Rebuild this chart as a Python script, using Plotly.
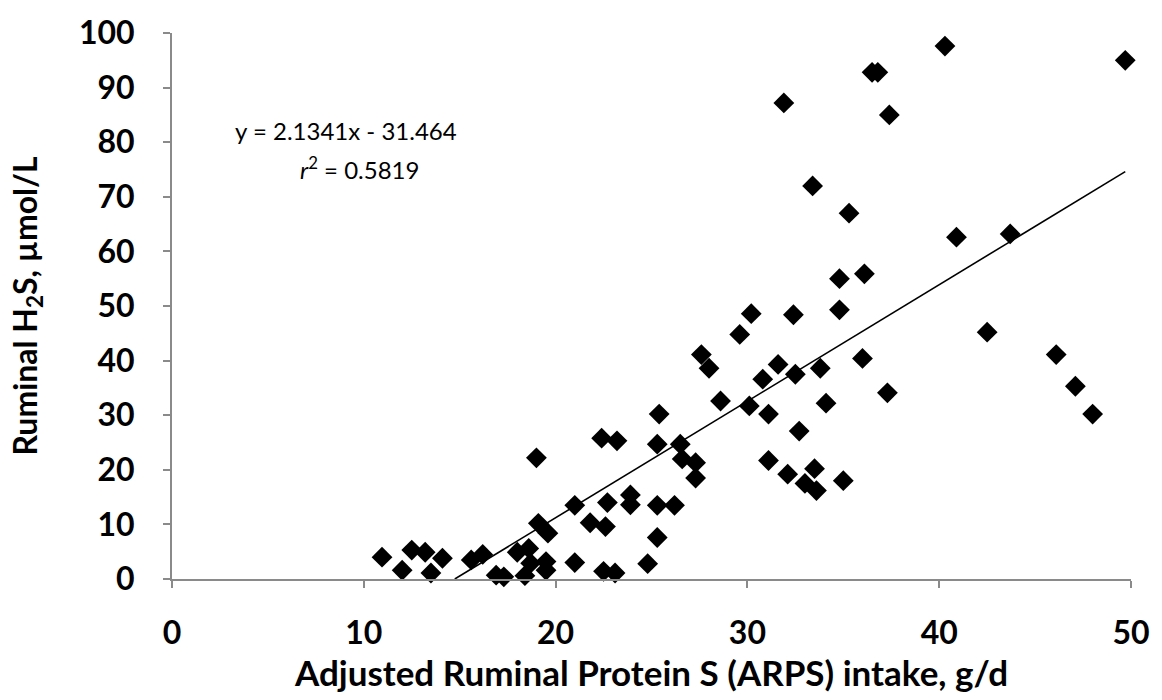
import plotly.graph_objects as go

# ARPS intake (g/d) and ruminal H2S (umol/L)
arps_intake = [
    10.95, 12.0, 12.5, 13.2, 13.5, 14.1, 15.6, 16.2,
    16.9, 17.3, 18.0, 18.6, 18.4, 18.7, 19.1, 19.6, 19.0, 19.5, 19.5,
    21.0, 21.0, 21.8, 22.6, 22.4, 23.2, 22.7, 23.9, 23.9, 22.5, 23.1,
    24.8, 25.3, 25.3, 26.2, 25.4, 25.3, 26.5, 26.6, 27.3, 27.3,
    27.6, 28.0, 28.6, 29.6, 30.1, 30.2, 30.8, 31.1, 31.1, 31.6,
    31.9, 32.1, 32.4, 32.5, 32.7, 33.4, 33.5, 33.0, 33.6, 33.8,
    34.1, 34.8, 34.8, 35.0, 35.3, 36.0, 36.1, 36.5, 36.8, 37.3,
    37.4, 40.3, 40.9, 42.5, 43.7, 46.1, 47.1, 48.0, 49.7,
]
h2s = [
    4.0, 1.6, 5.3, 4.9, 1.1, 3.8, 3.5, 4.5,
    0.7, 0.4, 4.9, 5.6, 0.6, 2.9, 10.2, 8.4, 22.2, 3.2, 1.6,
    3.0, 13.5, 10.3, 9.6, 25.8, 25.3, 14.0, 15.4, 13.6, 1.4, 1.1,
    2.8, 7.6, 13.5, 13.5, 30.2, 24.7, 24.7, 22.0, 21.3, 18.5,
    41.1, 38.6, 32.6, 44.8, 31.7, 48.6, 36.6, 30.2, 21.7, 39.3,
    87.2, 19.2, 48.4, 37.5, 27.1, 72.0, 20.2, 17.5, 16.2, 38.6,
    32.2, 55.0, 49.3, 18.0, 67.0, 40.4, 55.9, 92.8, 92.8, 34.1,
    85.0, 97.6, 62.6, 45.2, 63.2, 41.1, 35.3, 30.2, 95.0,
]

slope = 2.1341
intercept = -31.464
r_squared = 0.5819

x_ticks = [0, 10, 20, 30, 40, 50]
y_ticks = [0, 10, 20, 30, 40, 50, 60, 70, 80, 90, 100]

FONT = "Lato"
AXIS_GRAY = "#8a8a8a"

x_start = -intercept / slope
x_end = max(arps_intake)
trend_x = [x_start, x_end]
trend_y = [slope * v + intercept for v in trend_x]

fig = go.Figure()
fig.add_trace(go.Scatter(
    x=trend_x, y=trend_y, mode="lines",
    line=dict(color="black", width=1.6),
    hoverinfo="skip", showlegend=False,
))
fig.add_trace(go.Scatter(
    x=arps_intake, y=h2s, mode="markers",
    marker=dict(symbol="diamond", size=16, color="black",
                line=dict(width=0)),
    cliponaxis=False, showlegend=False,
))

fig.add_annotation(
    x=0.181, y=0.821, xref="paper", yref="paper",
    text=f"y = {slope}x - {abs(intercept)}",
    showarrow=False, font=dict(family=FONT, size=24, color="black"),
    xanchor="center", yanchor="middle",
)
fig.add_annotation(
    x=0.196, y=0.753, xref="paper", yref="paper",
    text=f"<i>r</i><sup>2</sup> = {r_squared}",
    showarrow=False, font=dict(family=FONT, size=24, color="black"),
    xanchor="center", yanchor="middle",
)

fig.update_layout(
    width=1162, height=700,
    margin=dict(l=172, r=25, t=30, b=121),
    plot_bgcolor="white", paper_bgcolor="white",
    font=dict(family=FONT, color="black"),
)
fig.update_xaxes(
    range=[0, 50], tickvals=x_ticks,
    showgrid=False, zeroline=False,
    showline=True, linecolor=AXIS_GRAY, linewidth=2,
    ticks="outside", ticklen=7, tickcolor=AXIS_GRAY, tickwidth=2,
    tickfont=dict(family=FONT, size=32, color="black", weight="bold"),
    ticklabelstandoff=18,
    title=dict(text="Adjusted Ruminal Protein S (ARPS) intake, g/d",
               font=dict(family=FONT, size=35, color="black", weight="bold"),
               standoff=10),
)
fig.update_yaxes(
    range=[0, 100], tickvals=y_ticks,
    showgrid=False, zeroline=False,
    showline=True, linecolor=AXIS_GRAY, linewidth=2,
    ticks="outside", ticklen=7, tickcolor=AXIS_GRAY, tickwidth=2,
    tickfont=dict(family=FONT, size=32, color="black", weight="bold"),
    ticklabelstandoff=22,
    title=dict(text="Ruminal H<sub>2</sub>S, µmol/L",
               font=dict(family=FONT, size=32, color="black", weight="bold"),
               standoff=32),
)

fig.write_html("out.html")
